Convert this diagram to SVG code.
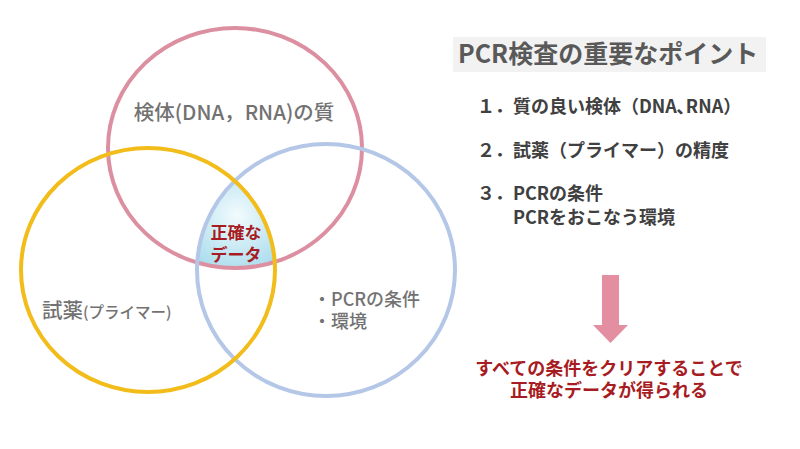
<svg xmlns="http://www.w3.org/2000/svg" width="800" height="449" viewBox="0 0 800 449">
<style>
.c{fill:none;stroke-width:4}
.lbl{font-family:"Noto Sans CJK JP","Noto Sans",sans-serif;fill:#727272;font-weight:500}
.jp{font-family:"Noto Sans CJK JP","Noto Sans",sans-serif}
.list{font-family:"Noto Sans CJK JP","Noto Sans",sans-serif;fill:#404040;font-size:18px;font-weight:bold}
.red{fill:#a71c22;font-weight:bold}
</style>
<defs>
<clipPath id="cpPink"><ellipse cx="235" cy="148" rx="127" ry="120"/></clipPath>
<clipPath id="cpYellow"><ellipse cx="148" cy="270" rx="127" ry="122"/></clipPath>
<radialGradient id="g" cx="237" cy="215" r="60" gradientUnits="userSpaceOnUse">
<stop offset="0" stop-color="#f2fbfd"/>
<stop offset="1" stop-color="#a9dced"/>
</radialGradient>
</defs>
<rect width="800" height="449" fill="#ffffff"/>
<g id="center-overlap" clip-path="url(#cpPink)">
<g clip-path="url(#cpYellow)">
<ellipse cx="326" cy="270" rx="129" ry="126" fill="url(#g)"/>
</g>
</g>
<g id="circle-sample">
<ellipse class="c" cx="235" cy="148" rx="127" ry="120" stroke="#dc8fa0"/>
<text class="lbl" x="234" y="120" font-size="20.5" text-anchor="middle">検体(DNA，RNA)の質</text>
</g>
<g id="circle-conditions">
<ellipse class="c" cx="326" cy="270" rx="129" ry="126" stroke="#b4c7e7"/>
<text class="lbl" x="313" y="306" font-size="18">・PCRの条件</text>
<text class="lbl" x="313" y="328" font-size="18">・環境</text>
</g>
<g id="circle-reagent">
<ellipse class="c" cx="148" cy="270" rx="127" ry="122" stroke="#f2bc1b"/>
<text class="lbl" x="42" y="318" font-size="20.5">試薬<tspan font-size="15.5">(プライマー)</tspan></text>
</g>
<g id="accurate-data">
<text class="jp red" x="236" y="239" font-size="17" text-anchor="middle">正確な</text>
<text class="jp red" x="236" y="261" font-size="17" text-anchor="middle">データ</text>
</g>
<g id="title">
<rect x="453" y="37" width="313" height="35" fill="#f2f2f2"/>
<text class="jp" x="458" y="63" font-size="25" font-weight="bold" fill="#595959">PCR検査の重要なポイント</text>
</g>
<g id="points">
<text class="list" x="477" y="113">１．質の良い検体（DNA､RNA）</text>
<text class="list" x="477" y="157">２．試薬（プライマー）の精度</text>
<text class="list" x="477" y="200">３．PCRの条件</text>
<text class="list" x="513" y="224">PCRをおこなう環境</text>
</g>
<g id="connectors">
<polygon points="602,275 619,275 619,325 628,325 610.5,343 593,325 602,325" fill="#e48fa1"/>
</g>
<g id="conclusion">
<text class="jp red" x="609" y="375" font-size="18" text-anchor="middle">すべての条件をクリアすることで</text>
<text class="jp red" x="609" y="397" font-size="18" text-anchor="middle">正確なデータが得られる</text>
</g>
</svg>
